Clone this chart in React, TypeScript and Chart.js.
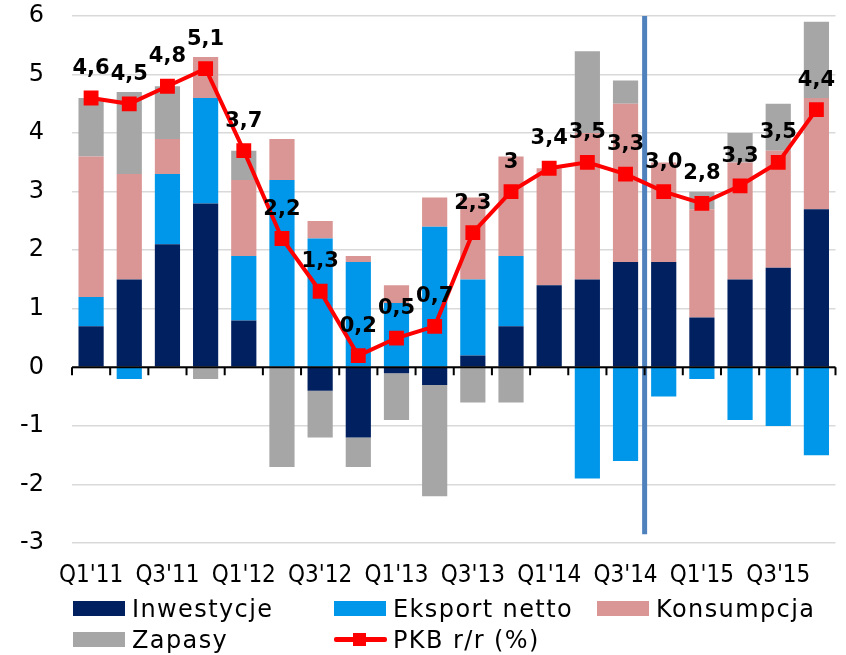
import React, { useEffect, useRef } from "react";
import { Chart, registerables } from "chart.js";

Chart.register(...registerables);

const categories = [
  "Q1'11", "Q2'11", "Q3'11", "Q4'11",
  "Q1'12", "Q2'12", "Q3'12", "Q4'12",
  "Q1'13", "Q2'13", "Q3'13", "Q4'13",
  "Q1'14", "Q2'14", "Q3'14", "Q4'14",
  "Q1'15", "Q2'15", "Q3'15", "Q4'15",
];
const inwestycje = [0.7, 1.5, 2.1, 2.8, 0.8, 0, -0.4, -1.2, -0.1, -0.3, 0.2, 0.7, 1.4, 1.5, 1.8, 1.8, 0.85, 1.5, 1.7, 2.7];
const eksportNetto = [0.5, -0.2, 1.2, 1.8, 1.1, 3.2, 2.2, 1.8, 1.1, 2.4, 1.3, 1.2, 0, -1.9, -1.6, -0.5, -0.2, -0.9, -1.0, -1.5];
const konsumpcja = [2.4, 1.8, 0.6, 0.7, 1.3, 0.7, 0.3, 0.1, 0.3, 0.5, 1.4, 1.7, 2.0, 2.5, 2.7, 1.7, 1.85, 2.0, 2.0, 1.9];
const zapasy = [1.0, 1.4, 0.9, -0.2, 0.5, -1.7, -0.8, -0.5, -0.8, -1.9, -0.6, -0.6, 0, 1.4, 0.4, 0, 0.3, 0.5, 0.8, 1.3];
const pkb = [4.6, 4.5, 4.8, 5.1, 3.7, 2.2, 1.3, 0.2, 0.5, 0.7, 2.3, 3.0, 3.4, 3.5, 3.3, 3.0, 2.8, 3.1, 3.5, 4.4];
const pkbLabels = ["4,6", "4,5", "4,8", "5,1", "3,7", "2,2", "1,3", "0,2", "0,5", "0,7", "2,3", "3", "3,4", "3,5", "3,3", "3,0", "2,8", "3,3", "3,5", "4,4"];

const yMin = -3;
const yMax = 6;
const dividerAfterIndex = 14; // line between Q3'14 and Q4'14
const dividerBottom = -2.85;

const COLORS = {
  inw: "#002060",
  eks: "#0097EA",
  kons: "#D99694",
  zap: "#A6A6A6",
  pkb: "#FF0000",
  divider: "#4F81BD",
};

const FONT = "'DejaVu Sans', Verdana, sans-serif";

const overlayPlugin = {
  id: "overlay",
  beforeDatasetsDraw(chart: any) {
    const { ctx, scales } = chart;
    const x = scales.x;
    const y = scales.y;
    const xp = (x.getPixelForValue(dividerAfterIndex) + x.getPixelForValue(dividerAfterIndex + 1)) / 2;
    ctx.save();
    ctx.strokeStyle = COLORS.divider;
    ctx.lineWidth = 5;
    ctx.beginPath();
    ctx.moveTo(xp, y.getPixelForValue(yMax));
    ctx.lineTo(xp, y.getPixelForValue(dividerBottom));
    ctx.stroke();
    ctx.restore();
  },
  afterDatasetsDraw(chart: any) {
    const { ctx, scales, chartArea } = chart;
    const x = scales.x;
    const y = scales.y;
    const y0 = y.getPixelForValue(0);
    const step = x.getPixelForValue(1) - x.getPixelForValue(0);
    ctx.save();
    ctx.strokeStyle = "#000";
    ctx.lineWidth = 2;
    ctx.beginPath();
    ctx.moveTo(chartArea.left, y0);
    ctx.lineTo(chartArea.right, y0);
    for (let i = 0; i <= categories.length; i++) {
      const xb = x.getPixelForValue(0) - step / 2 + i * step;
      ctx.moveTo(xb, y0);
      ctx.lineTo(xb, y0 + 8);
    }
    ctx.stroke();

    // data labels for the PKB line
    const idx = chart.data.datasets.findIndex((d: any) => d.type === "line");
    const meta = chart.getDatasetMeta(idx);
    ctx.fillStyle = "#000";
    ctx.font = `bold 21px ${FONT}`;
    ctx.textAlign = "center";
    ctx.textBaseline = "alphabetic";
    meta.data.forEach((pt: any, i: number) => {
      ctx.fillText(pkbLabels[i], pt.x, pt.y - 24);
    });
    ctx.restore();
  },
};

export default function App() {
  const ref = useRef<HTMLCanvasElement | null>(null);

  useEffect(() => {
    if (!ref.current) return;
    const barCommon = {
      type: "bar" as const,
      stack: "bars",
      order: 1,
      barPercentage: 1,
      categoryPercentage: 0.66,
      borderWidth: 0,
    };
    const chart = new Chart(ref.current, {
      type: "bar",
      data: {
        labels: categories,
        datasets: [
          { ...barCommon, label: "Inwestycje", data: inwestycje, backgroundColor: COLORS.inw },
          { ...barCommon, label: "Eksport netto", data: eksportNetto, backgroundColor: COLORS.eks },
          { ...barCommon, label: "Konsumpcja", data: konsumpcja, backgroundColor: COLORS.kons },
          { ...barCommon, label: "Zapasy", data: zapasy, backgroundColor: COLORS.zap },
          {
            type: "line" as const,
            label: "PKB r/r (%)",
            data: pkb,
            stack: "pkb",
            order: 0,
            borderColor: COLORS.pkb,
            backgroundColor: COLORS.pkb,
            borderWidth: 4,
            pointStyle: "rect",
            pointRadius: 10.5,
            pointBorderWidth: 0,
            tension: 0,
          } as any,
        ],
      },
      options: {
        responsive: false,
        animation: false,
        layout: { padding: { top: 16, right: 8, left: 0, bottom: 0 } },
        plugins: {
          legend: { display: false },
          tooltip: { enabled: false },
        },
        scales: {
          x: {
            stacked: true,
            grid: { display: false, drawTicks: false },
            border: { display: false },
            ticks: {
              autoSkip: false,
              maxRotation: 0,
              padding: 18,
              color: "#000",
              font: { family: "'DejaVu Sans Condensed', 'DejaVu Sans', sans-serif", size: 24 },
              callback: (_v: any, i: number) => (i % 2 === 0 ? categories[i] : ""),
            },
            afterFit: (s: any) => {
              s.height = 57;
              s.paddingLeft = 0;
              s.paddingRight = 0;
            },
          },
          y: {
            stacked: true,
            min: yMin,
            max: yMax,
            grid: { color: "#D9D9D9", lineWidth: 1.5, drawTicks: false },
            border: { display: false },
            ticks: {
              stepSize: 1,
              padding: 28,
              color: "#000",
              font: { family: FONT, size: 24 },
            },
            afterFit: (s: any) => {
              s.width = 72;
              s.paddingTop = 0;
              s.paddingBottom = 0;
            },
          },
        },
      },
      plugins: [overlayPlugin],
    } as any);
    return () => chart.destroy();
  }, []);

  const legendText: React.CSSProperties = {
    position: "absolute",
    fontFamily: FONT,
    fontSize: 24,
    lineHeight: "24px",
    letterSpacing: "1.4px",
    color: "#000",
    whiteSpace: "nowrap",
  };
  const box = (left: number, top: number, color: string) => (
    <div style={{ position: "absolute", left, top, width: 52, height: 15, background: color }} />
  );

  return (
    <div style={{ position: "fixed", left: 0, top: 0, width: 846, height: 655, background: "#fff", overflow: "hidden" }}>
      <canvas ref={ref} width={846} height={600} style={{ position: "absolute", left: 0, top: 0 }} />
      {box(73, 601, COLORS.inw)}
      <div style={{ ...legendText, left: 132, top: 597 }}>Inwestycje</div>
      {box(334, 601, COLORS.eks)}
      <div style={{ ...legendText, left: 393, top: 597 }}>Eksport netto</div>
      {box(597, 601, COLORS.kons)}
      <div style={{ ...legendText, left: 656, top: 597 }}>Konsumpcja</div>
      {box(73, 632, COLORS.zap)}
      <div style={{ ...legendText, left: 132, top: 628 }}>Zapasy</div>
      <div style={{ position: "absolute", left: 334, top: 637, width: 53, height: 5, background: COLORS.pkb, borderRadius: 2 }} />
      <div style={{ position: "absolute", left: 353, top: 633, width: 13, height: 13, background: COLORS.pkb }} />
      <div style={{ ...legendText, left: 393, top: 628 }}>PKB r/r (%)</div>
    </div>
  );
}
